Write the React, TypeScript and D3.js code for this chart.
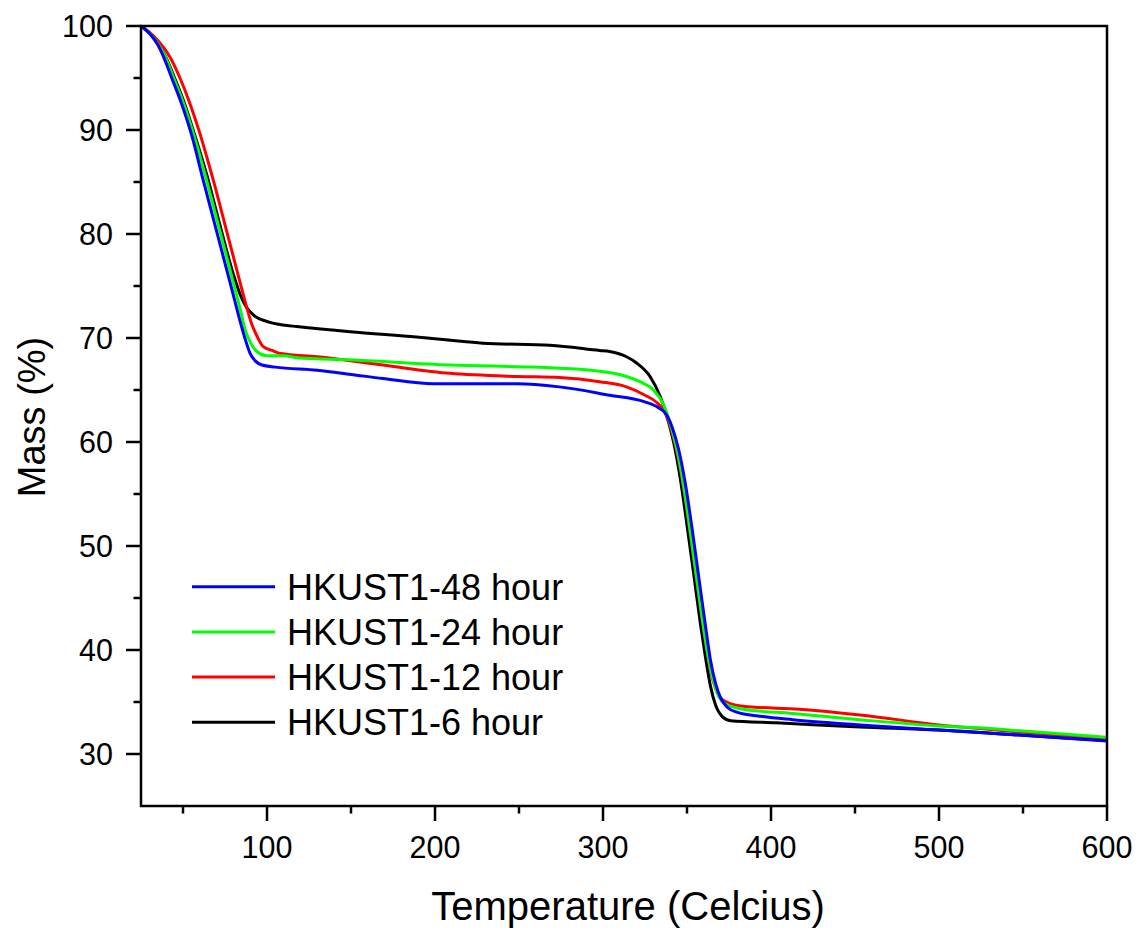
import React from "react";
import * as d3 from "d3";

const seriesNames = ["HKUST1-48 hour", "HKUST1-24 hour", "HKUST1-12 hour", "HKUST1-6 hour"];
const seriesColors = ["#0000ff", "#00ff00", "#ff0000", "#000000"];

const blue48: [number, number][] = [
  [25, 100], [30, 99.3], [35, 98.2], [38, 97.2], [43.3, 95], [49, 92.6], [55, 89.6], [62, 85.2],
  [68, 81.5], [74, 77.8], [80, 74.1], [84, 71.6], [87, 69.9], [90, 68.5], [93, 67.8], [97, 67.4],
  [105, 67.2], [130, 66.9], [150, 66.5], [169, 66.1], [199, 65.6], [249, 65.6], [274, 65.3],
  [304, 64.5], [324, 63.9], [333, 63.3], [337, 62.8], [341, 61.5], [345, 59.3], [349, 56],
  [353, 51.7], [357, 47], [361, 42.3], [364, 39], [367, 36.8], [370, 35.4], [374, 34.5],
  [380, 34.0], [395, 33.6], [413, 33.3], [453, 32.8], [500, 32.3], [550, 31.8], [600, 31.25],
];

const green24: [number, number][] = [
  [25, 100], [30, 99.3], [35, 98.3], [39, 97.2], [44.5, 95], [50.5, 92.5], [56.5, 89.5], [64, 85.2],
  [70, 81.5], [76, 77.8], [80, 75.3], [84, 72.8], [87, 70.8], [90, 69.6], [94, 68.7], [100, 68.3],
  [110, 68.3], [118, 68.1], [149, 67.9], [209, 67.4], [258, 67.2], [274, 67.1], [298, 66.8],
  [314, 66.3], [322, 65.8], [330, 65], [336, 63.6], [340, 61.8], [344, 59.3], [348, 55.8],
  [352, 51.3], [356, 46.6], [360, 42], [363, 39], [366, 36.9], [369, 35.5], [373, 34.8],
  [383.5, 34.3], [413, 33.9], [453, 33.3], [500, 32.7], [526, 32.5], [550, 32.2], [600, 31.6],
];

const red12: [number, number][] = [
  [25, 100], [30, 99.4], [35, 98.6], [42.3, 97], [48.2, 95], [54, 92.6], [60, 89.7], [64, 87.5],
  [68, 85.2], [74, 81.5], [80, 77.8], [85, 74.7], [88, 72.9], [91, 71.3], [94, 70.2], [97.6, 69.2],
  [103, 68.8], [108, 68.5], [130, 68.2], [169, 67.4], [209, 66.6], [249, 66.3], [274, 66.2],
  [298, 65.8], [314, 65.3], [325, 64.5], [332, 63.8], [337, 62.8], [341, 61], [345, 58.3],
  [349, 54.5], [353, 50], [357, 45.3], [361, 40.8], [364, 38], [367, 36.3], [370, 35.4],
  [375, 34.9], [383.5, 34.6], [417, 34.3], [453, 33.75], [500, 32.8], [550, 32.1], [600, 31.5],
];

const black6: [number, number][] = [
  [25, 100], [30, 99.3], [35, 98.3], [39.5, 97.1], [45, 95], [51, 92.5], [57, 89.5], [65, 85.2],
  [70, 82.1], [75, 79], [80, 76.1], [84, 74.2], [88, 72.9], [92, 72.2], [99.8, 71.6],
  [109.5, 71.25], [117.7, 71.1], [149.4, 70.6], [189, 70.1], [228.6, 69.5], [268.5, 69.3],
  [298, 68.8], [304, 68.7], [314, 68.2], [320, 67.6], [328, 66.3], [334, 64.4], [338, 62.5],
  [342, 60], [346, 56.5], [350, 52], [354, 47.3], [358, 42.5], [361, 39.3], [364, 36.5],
  [367, 34.7], [371, 33.6], [376, 33.2], [403, 33.0], [453, 32.6], [500, 32.3], [550, 31.8],
  [600, 31.3],
];

const seriesData = [blue48, green24, red12, black6];
const drawOrder = [3, 2, 1, 0];

const xMajorTicks = [100, 200, 300, 400, 500, 600];
const xMinorTicks = [50, 150, 250, 350, 450, 550];
const yMajorTicks = [30, 40, 50, 60, 70, 80, 90, 100];
const yMinorTicks = [35, 45, 55, 65, 75, 85, 95];

const xLabel = "Temperature (Celcius)";
const yLabel = "Mass (%)";

export default function App() {
  const left = 141, right = 1107, top = 26, bottom = 806;
  const x = d3.scaleLinear().domain([25, 600]).range([left, right]);
  const y = d3.scaleLinear().domain([25, 100]).range([bottom, top]);
  const line = d3
    .line<[number, number]>()
    .x((d) => x(d[0]))
    .y((d) => y(d[1]))
    .curve(d3.curveMonotoneX);
  const font = "'Liberation Sans', Arial, sans-serif";
  const axisW = 2.5;

  return (
    <svg
      width={1142}
      height={932}
      style={{ position: "absolute", left: 0, top: 0, background: "#fff" }}
      fontFamily={font}
    >
      <rect x={0} y={0} width={1142} height={932} fill="#fff" />
      {drawOrder.map((i) => (
        <path
          key={i}
          d={line(seriesData[i]) || ""}
          fill="none"
          stroke={seriesColors[i]}
          strokeWidth={3}
          strokeLinejoin="round"
        />
      ))}
      <rect
        x={left}
        y={top}
        width={right - left}
        height={bottom - top}
        fill="none"
        stroke="#000"
        strokeWidth={axisW}
      />
      {xMajorTicks.map((t) => (
        <g key={"xm" + t}>
          <line x1={x(t)} x2={x(t)} y1={bottom} y2={bottom + 15} stroke="#000" strokeWidth={axisW} />
          <text x={x(t)} y={858} fontSize={30.5} textAnchor="middle" fill="#000">
            {t}
          </text>
        </g>
      ))}
      {xMinorTicks.map((t) => (
        <line key={"xn" + t} x1={x(t)} x2={x(t)} y1={bottom} y2={bottom + 7.5} stroke="#000" strokeWidth={axisW} />
      ))}
      {yMajorTicks.map((t) => (
        <g key={"ym" + t}>
          <line x1={left - 15} x2={left} y1={y(t)} y2={y(t)} stroke="#000" strokeWidth={axisW} />
          <text x={113} y={y(t) + 11} fontSize={30.5} textAnchor="end" fill="#000">
            {t}
          </text>
        </g>
      ))}
      {yMinorTicks.map((t) => (
        <line key={"yn" + t} x1={left - 7.5} x2={left} y1={y(t)} y2={y(t)} stroke="#000" strokeWidth={axisW} />
      ))}
      <text x={628} y={920} fontSize={40} textAnchor="middle" fill="#000">
        {xLabel}
      </text>
      <text
        transform={`translate(45, 417) rotate(-90)`}
        fontSize={38}
        textAnchor="middle"
        fill="#000"
      >
        {yLabel}
      </text>
      {seriesNames.map((name, i) => {
        const ly = 586.7 + i * 45.2;
        return (
          <g key={name}>
            <line x1={192} x2={275} y1={ly} y2={ly} stroke={seriesColors[i]} strokeWidth={3} />
            <text x={287} y={ly + 12.8} fontSize={36} fill="#000">
              {name}
            </text>
          </g>
        );
      })}
    </svg>
  );
}
